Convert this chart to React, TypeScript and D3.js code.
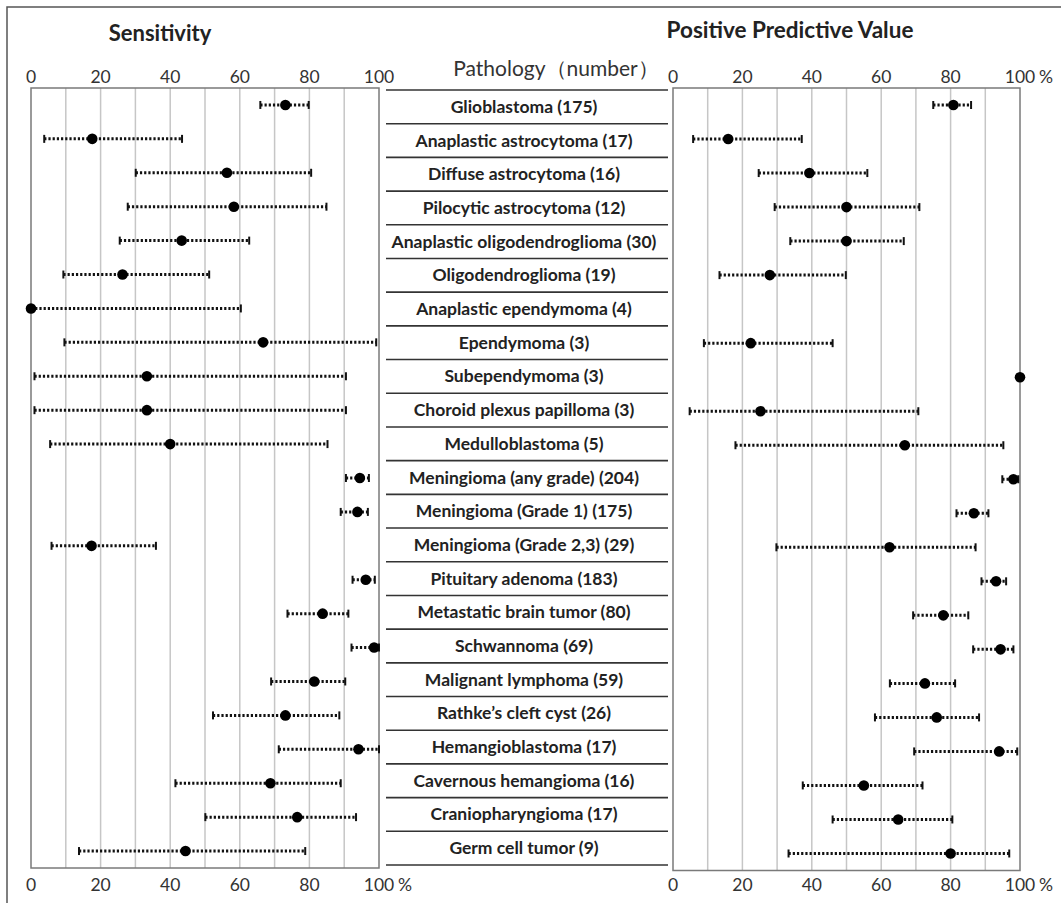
import React from "react";
import * as d3 from "d3";

const categories = [
  "Glioblastoma (175)",
  "Anaplastic astrocytoma (17)",
  "Diffuse astrocytoma (16)",
  "Pilocytic astrocytoma  (12)",
  "Anaplastic oligodendroglioma (30)",
  "Oligodendroglioma (19)",
  "Anaplastic ependymoma (4)",
  "Ependymoma (3)",
  "Subependymoma (3)",
  "Choroid plexus papilloma (3)",
  "Medulloblastoma (5)",
  "Meningioma (any grade) (204)",
  "Meningioma (Grade 1) (175)",
  "Meningioma (Grade 2,3) (29)",
  "Pituitary adenoma (183)",
  "Metastatic brain tumor (80)",
  "Schwannoma (69)",
  "Malignant lymphoma (59)",
  "Rathke\u2019s cleft cyst  (26)",
  "Hemangioblastoma (17)",
  "Cavernous hemangioma (16)",
  "Craniopharyngioma (17)",
  "Germ cell tumor  (9)",
];

// Sensitivity (%)
const sensValue = [73.1, 17.6, 56.3, 58.3, 43.3, 26.3, 0, 66.7, 33.3, 33.3, 40.0, 94.5, 93.8, 17.4, 96.2, 83.8, 98.6, 81.4, 73.1, 94.1, 68.8, 76.5, 44.4];
const sensLow = [65.9, 3.8, 30.1, 27.8, 25.5, 9.3, 0, 9.6, 1.0, 1.0, 5.5, 90.5, 89.0, 5.9, 92.4, 73.7, 92.1, 69.0, 52.3, 71.2, 41.5, 50.1, 13.8];
const sensHigh = [79.8, 43.4, 80.5, 84.9, 62.7, 51.2, 60.3, 99.2, 90.5, 90.5, 85.2, 97.1, 96.8, 35.9, 98.8, 91.2, 100, 90.3, 88.6, 100, 89.0, 93.4, 78.8];

// Positive predictive value (%) — null where not available
const ppvValue = [80.8, 15.9, 39.3, 50.0, 50.0, 27.9, null, 22.4, 100, 25.2, 66.8, 98.1, 86.7, 62.4, 93.1, 77.9, 94.4, 72.6, 76.0, 94.0, 55.0, 64.9, 80.0];
const ppvLow = [75.0, 5.8, 24.7, 29.3, 33.8, 13.4, null, 8.9, null, 4.8, 18.0, 94.9, 81.7, 29.8, 88.9, 69.2, 86.5, 62.5, 58.2, 69.5, 37.4, 46.0, 33.3];
const ppvHigh = [85.9, 37.1, 56.0, 71.0, 66.5, 49.8, null, 46.0, null, 70.7, 95.2, 99.5, 90.9, 87.2, 96.0, 85.1, 98.1, 81.3, 88.2, 99.2, 71.9, 80.5, 96.9];

const axisTicks = [0, 20, 40, 60, 80, 100];
const gridTicks = [10, 20, 30, 40, 50, 60, 70, 80, 90];

const FONT = "Lato, 'Open Sans', sans-serif";

type PanelProps = {
  x0: number;
  x1: number;
  y0: number;
  y1: number;
  values: (number | null)[];
  lows: (number | null)[];
  highs: (number | null)[];
  pctTop: boolean;
  pctBottom: boolean;
};

function Panel({ x0, x1, y0, y1, values, lows, highs, pctTop, pctBottom }: PanelProps) {
  const x = d3.scaleLinear().domain([0, 100]).range([x0, x1]);
  const y = d3
    .scaleBand<number>()
    .domain(d3.range(categories.length))
    .range([y0, y1]);
  const cy = (i: number) => (y(i) as number) + y.bandwidth() / 2;
  const tickLabel = (t: number, yy: number, pct: boolean) => (
    <g key={`${t}-${yy}`}>
      <text x={x(t)} y={yy} textAnchor="middle" fontSize={17.5} fill="#333" fontFamily={FONT}>
        {t}
      </text>
      {t === 100 && pct ? (
        <text x={x(t) + 19} y={yy} textAnchor="start" fontSize={17.5} fill="#333" fontFamily={FONT}>
          %
        </text>
      ) : null}
    </g>
  );
  return (
    <g>
      {gridTicks.map((t) => (
        <line key={t} x1={x(t)} x2={x(t)} y1={y0} y2={y1} stroke="#c6c6c6" strokeWidth={1.5} />
      ))}
      <rect x={x0} y={y0} width={x1 - x0} height={y1 - y0} fill="none" stroke="#7a7a7a" strokeWidth={1.5} />
      {axisTicks.map((t) => tickLabel(t, 83, pctTop))}
      {axisTicks.map((t) => tickLabel(t, 891, pctBottom))}
      {values.map((v, i) => {
        if (v === null) return null;
        const lo = lows[i];
        const hi = highs[i];
        const yy = cy(i);
        return (
          <g key={i}>
            {lo !== null && hi !== null ? (
              <g>
                <line x1={x(lo)} x2={x(hi)} y1={yy} y2={yy} stroke="#111" strokeWidth={3} strokeDasharray="2.2 2" />
                <line x1={x(lo)} x2={x(lo)} y1={yy - 4} y2={yy + 4} stroke="#111" strokeWidth={2} />
                <line x1={x(hi)} x2={x(hi)} y1={yy - 4} y2={yy + 4} stroke="#111" strokeWidth={2} />
              </g>
            ) : null}
            <circle cx={x(v)} cy={yy} r={5.3} fill="#000" />
          </g>
        );
      })}
    </g>
  );
}

export default function App() {
  const W = 1061;
  const H = 903;
  const mid = d3
    .scaleBand<number>()
    .domain(d3.range(categories.length))
    .range([90, 865]);
  const sepYs = d3.range(categories.length + 1).map((i) =>
    i < categories.length ? (mid(i) as number) : 865
  );
  return (
    <svg
      width={W}
      height={H}
      style={{ position: "absolute", left: 0, top: 0, background: "#fff" }}
    >
      <rect x={0} y={0} width={W} height={H} fill="#fff" />
      <rect x={7} y={7} width={W + 10} height={H + 10} fill="none" stroke="#555" strokeWidth={1.5} />
      <text x={160} y={41} textAnchor="middle" fontSize={22} fontWeight="bold" fill="#222" fontFamily={FONT}>
        Sensitivity
      </text>
      <text x={790} y={38} textAnchor="middle" fontSize={22.5} fontWeight="bold" fill="#222" fontFamily={FONT}>
        Positive Predictive Value
      </text>
      <text x={556} y={76} textAnchor="middle" fontSize={21} fill="#333" fontFamily={FONT}>
        Pathology（number）
      </text>
      <Panel x0={31} x1={379} y0={88} y1={868} values={sensValue} lows={sensLow} highs={sensHigh} pctTop={false} pctBottom={true} />
      <Panel x0={673} x1={1020} y0={88} y1={870.5} values={ppvValue} lows={ppvLow} highs={ppvHigh} pctTop={true} pctBottom={true} />
      {sepYs.map((yy, i) => (
        <line key={i} x1={386} x2={668} y1={yy} y2={yy} stroke="#333" strokeWidth={1.6} />
      ))}
      {categories.map((c, i) => (
        <text
          key={c}
          x={524}
          y={(mid(i) as number) + mid.bandwidth() / 2 + 6}
          textAnchor="middle"
          fontSize={17.5}
          fontWeight="bold"
          fill="#222"
          fontFamily={FONT}
        >
          {c}
        </text>
      ))}
    </svg>
  );
}
